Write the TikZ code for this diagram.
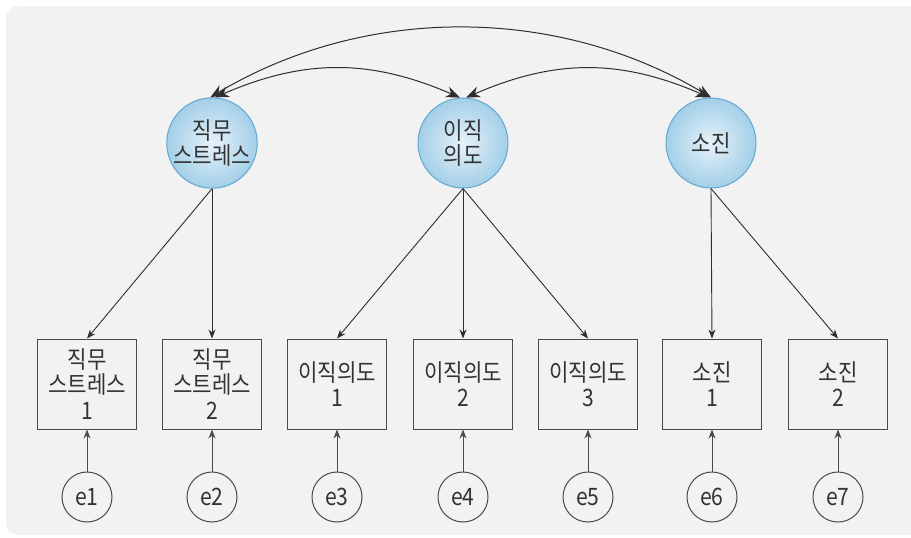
\documentclass[tikz,border=0pt]{standalone}
\usepackage{fontspec}
\newfontfamily\kr[FakeStretch=0.88]{Noto Sans CJK KR}
\usetikzlibrary{arrows.meta,bending}
\definecolor{bgcol}{HTML}{F2F2F2}
\definecolor{linecol}{HTML}{2E2E2E}
\definecolor{boxcol}{HTML}{4A4A4A}
\definecolor{latborder}{HTML}{62A8D2}
\definecolor{latin}{HTML}{E6F2F9}
\definecolor{latout}{HTML}{A3CFE8}
\definecolor{txtcol}{HTML}{333333}
\tikzset{
  latent/.style={circle, minimum size=90pt, inner sep=0pt, draw=latborder, line width=1pt,
    inner color=latin, outer color=latout, align=center, text=txtcol,
    font=\kr\fontsize{24}{25}\selectfont},
  obsbox/.style={rectangle, minimum width=99pt, minimum height=90pt, inner sep=0pt,
    draw=boxcol, line width=1pt, align=center, text=txtcol,
    font=\kr\fontsize{24}{25.5}\selectfont},
  errc/.style={circle, minimum size=50pt, inner sep=0pt, draw=boxcol, line width=1pt,
    text=txtcol, font=\kr\fontsize{24}{24}\selectfont},
  load/.style={draw=linecol, line width=0.9pt, -{Stealth[length=9pt,width=7pt]}},
  errarr/.style={draw=boxcol, line width=0.9pt, -{Stealth[length=9pt,width=7pt]}},
  cov/.style={draw=linecol, line width=1pt, {Stealth[length=14pt,width=11pt,bend]}-{Stealth[length=14pt,width=11pt,bend]}}
}
\begin{document}
\begin{tikzpicture}[x=1pt,y=-1pt]
\useasboundingbox (0,0) rectangle (911,538);
\begin{scope}
\clip (0,0) rectangle (911,538);
\fill[bgcol, rounded corners=12pt] (6,6) rectangle (925,535);
\end{scope}

% latent variables
\node[latent] (L1) at (212,143) {직무\\스트레스};
\node[latent] (L2) at (463,143) {이직\\의도};
\node[latent] (L3) at (711,143) {소진};

% observed boxes
\node[obsbox] (B1) at (87,384) {직무\\스트레스\\1};
\node[obsbox] (B2) at (212,384) {직무\\스트레스\\2};
\node[obsbox] (B3) at (337,384) {이직의도\\1};
\node[obsbox] (B4) at (463,384) {이직의도\\2};
\node[obsbox] (B5) at (588,384) {이직의도\\3};
\node[obsbox] (B6) at (712,384) {소진\\1};
\node[obsbox] (B7) at (838,384) {소진\\2};

% error terms
\node[errc] (E1) at (87,497) {e1};
\node[errc] (E2) at (212,497) {e2};
\node[errc] (E3) at (337,497) {e3};
\node[errc] (E4) at (463,497) {e4};
\node[errc] (E5) at (588,497) {e5};
\node[errc] (E6) at (712,497) {e6};
\node[errc] (E7) at (838,497) {e7};

% loadings
\draw[load] (L1.south) -- (B1.north);
\draw[load] (L1.south) -- (B2.north);
\draw[load] (L2.south) -- (B3.north);
\draw[load] (L2.south) -- (B4.north);
\draw[load] (L2.south) -- (B5.north);
\draw[load] (L3.south) -- (B6.north);
\draw[load] (L3.south) -- (B7.north);

% error arrows
\foreach \i in {1,...,7} {
  \draw[errarr] (E\i.north) -- (B\i.south);
}

% covariances
\draw[cov] (L1.86) .. controls +(88,-40) and +(-88,-40) .. (L2.94);
\draw[cov] (L2.86) .. controls +(88,-40) and +(-88,-40) .. (L3.92);
\draw[cov] (L1.92) .. controls +(150,-94) and +(-150,-94) .. (L3.90);
\end{tikzpicture}
\end{document}
